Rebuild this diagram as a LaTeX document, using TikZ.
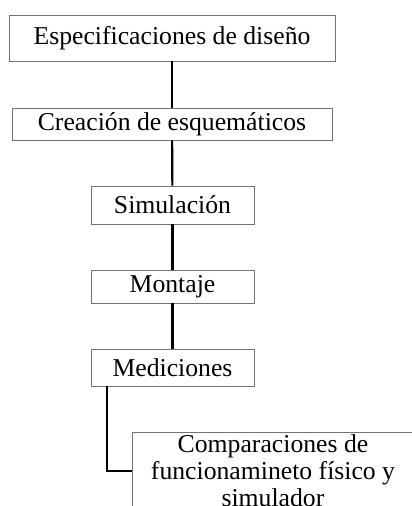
\documentclass[tikz,border=0pt]{standalone}
\usepackage{fontspec}
\setmainfont{Liberation Serif}
\begin{document}
\begin{tikzpicture}[x=1pt,y=-1pt,
  stepbox/.style={draw=black!55,line width=0.9pt,fill=white,inner sep=0pt,anchor=center,
     font=\fontsize{25.7}{27}\selectfont,align=center},
  link/.style={draw=black,line width=2.2pt}]
\useasboundingbox (0,0) rectangle (412,506);
\clip (0,0) rectangle (412,506);
\fill[white] (0,0) rectangle (412,506);
\node[stepbox,minimum width=326pt,minimum height=46pt] (spec) at (172,38) {Especificaciones de diseño};
\node[stepbox,minimum width=320pt,minimum height=32pt] (crea) at (172,124) {Creación de esquemáticos};
\node[stepbox,minimum width=163pt,minimum height=38pt] (sim) at (172.5,205) {Simulación};
\node[stepbox,minimum width=163pt,minimum height=33pt] (mon) at (172.5,286.5) {Montaje};
\node[stepbox,minimum width=163pt,minimum height=37pt] (med) at (172.5,367.5) {Mediciones};
\node[stepbox,minimum width=282pt,minimum height=78pt] (cmp) at (273,471) {Comparaciones de\\funcionamineto físico y\\simulador};
\coordinate (e) at (107,386);
\draw[link] (spec) -- (crea);
\draw[link] (crea) -- (sim);
\draw[link] (sim) -- (mon);
\draw[link] (mon) -- (med);
\draw[link] (e) |- (cmp.west);
\end{tikzpicture}
\end{document}
